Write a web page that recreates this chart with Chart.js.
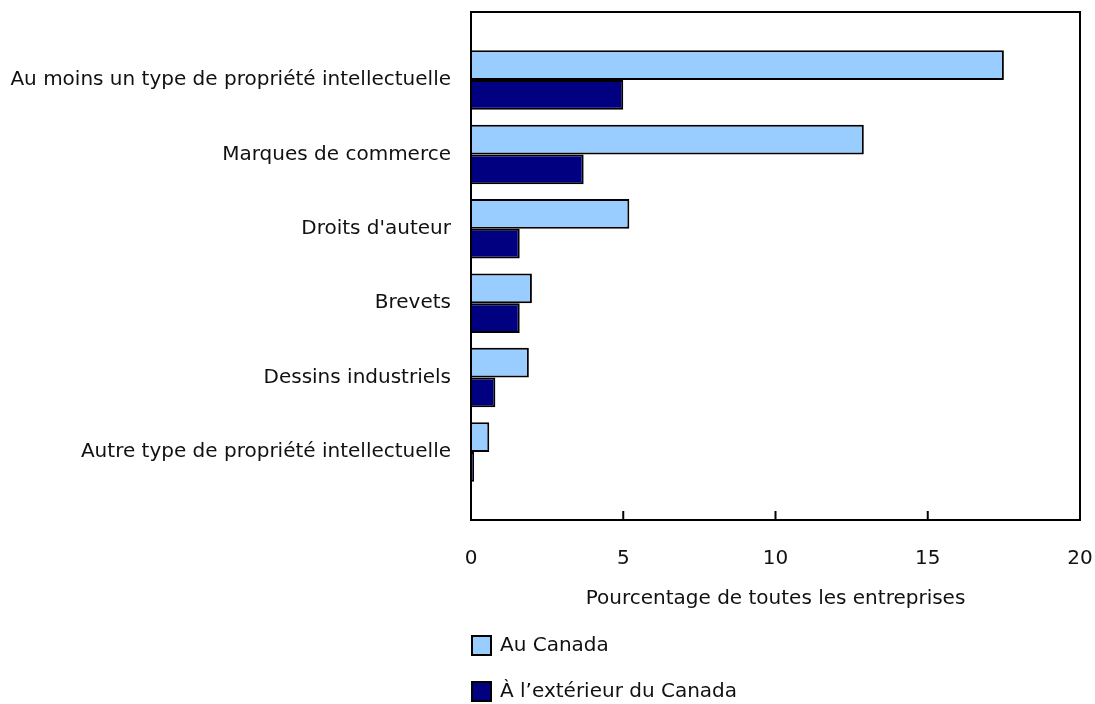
<!DOCTYPE html>
<html>
<head>
<meta charset="utf-8">
<script src="https://cdn.jsdelivr.net/npm/chart.js@4.4.0/dist/chart.umd.min.js"></script>
<style>
  html, body { margin: 0; padding: 0; background: #fff; }
  #wrap { width: 1095px; height: 704px; }
</style>
</head>
<body>
<div id="wrap"><canvas id="myChart"></canvas></div>
<script>
// categories, top to bottom
const categories = [
    "Au moins un type de propriété intellectuelle",
    "Marques de commerce",
    "Droits d'auteur",
    "Brevets",
    "Dessins industriels",
    "Autre type de propriété intellectuelle"
];
const seriesNames = ["Au Canada", "À l’extérieur du Canada"];
const auCanada = [17.5, 12.9, 5.2, 2.0, 1.9, 0.6];
const exterieur = [5.0, 3.7, 1.6, 1.6, 0.8, 0.1];
const xTicks = [0, 5, 10, 15, 20];
const xTitle = "Pourcentage de toutes les entreprises";

const FONT = "'DejaVu Sans', Verdana, sans-serif";
const FS = 20;
const TXT = '#111';

function toPoints(vals){
    return vals.map(function(v, i){ return {x: v, y: i}; });
}

// frame round the plot area + small inward ticks on the x axis
const framePlugin = {
    id: 'frame',
    afterDraw(chart){
        const ctx = chart.ctx;
        const a = chart.chartArea;
        const xs = chart.scales.x;
        ctx.save();
        ctx.strokeStyle = '#000';
        ctx.lineWidth = 2;
        ctx.strokeRect(a.left, a.top, a.right - a.left, a.bottom - a.top);
        for (const t of xTicks.slice(1, -1)) {
            const px = xs.getPixelForValue(t);
            ctx.beginPath();
            ctx.moveTo(px, a.bottom);
            ctx.lineTo(px, a.bottom - 9);
            ctx.stroke();
        }
        ctx.restore();
    }
};

// legend stacked under the plot, left aligned on the axis
const legendPlugin = {
    id: 'stackLegend',
    afterDraw(chart){
        const ctx = chart.ctx;
        const left = chart.chartArea.left;
        const rows = [646, 692];
        ctx.save();
        ctx.font = FS + 'px ' + FONT;
        ctx.textBaseline = 'middle';
        ctx.textAlign = 'left';
        chart.data.datasets.forEach(function(ds, i){
            const cy = rows[i];
            ctx.fillStyle = ds.backgroundColor;
            ctx.fillRect(left + 1, cy - 10, 19, 19);
            ctx.strokeStyle = '#000';
            ctx.lineWidth = 2;
            ctx.strokeRect(left + 1, cy - 10, 19, 19);
            ctx.fillStyle = TXT;
            ctx.fillText(ds.label, left + 29, cy);
        });
        ctx.restore();
    }
};

const ctx = document.getElementById('myChart').getContext('2d');
const myChart = new Chart(ctx, {
    type: 'bar',
    data: {
        datasets: [{
            label: seriesNames[0],
            data: toPoints(auCanada),
            backgroundColor: '#99ccff',
            borderColor: '#000',
            borderWidth: 2
        }, {
            label: seriesNames[1],
            data: toPoints(exterieur),
            backgroundColor: '#000080',
            borderColor: '#000',
            borderWidth: 2
        }]
    },
    options: {
        indexAxis: 'y',
        responsive: true,
        maintainAspectRatio: false,
        animation: false,
        categoryPercentage: 0.8,
        barPercentage: 1.0,
        layout: { padding: { top: 12, right: 15, bottom: 93, left: 0 } },
        plugins: {
            legend: { display: false },
            tooltip: { enabled: false }
        },
        scales: {
            x: {
                type: 'linear',
                min: 0,
                max: 20,
                offset: false,
                grid: { display: false, drawTicks: false },
                border: { display: false },
                afterBuildTicks: function(scale){
                    scale.ticks = xTicks.map(function(v){ return {value: v}; });
                },
                afterFit: function(scale){
                    scale.height = 91;
                    scale.paddingLeft = 0;
                    scale.paddingRight = 0;
                },
                ticks: {
                    padding: 27,
                    color: TXT,
                    font: { family: FONT, size: FS }
                },
                title: {
                    display: true,
                    text: xTitle,
                    color: TXT,
                    padding: { top: 0, bottom: 0 },
                    font: { family: FONT, size: FS }
                }
            },
            y: {
                type: 'linear',
                reverse: true,
                offset: false,
                bounds: 'data',
                min: -0.914,
                max: categories.length - 1 + 0.914,
                grid: { display: false, drawTicks: false },
                border: { display: false },
                afterBuildTicks: function(scale){
                    scale.ticks = categories.map(function(c, i){ return {value: i}; });
                },
                afterFit: function(scale){
                    scale.width = 471;
                    scale.paddingTop = 0;
                    scale.paddingBottom = 0;
                },
                ticks: {
                    autoSkip: false,
                    padding: 20,
                    color: TXT,
                    font: { family: FONT, size: FS },
                    callback: function(v){ return categories[v]; }
                }
            }
        }
    },
    plugins: [framePlugin, legendPlugin]
});
</script>
</body>
</html>
